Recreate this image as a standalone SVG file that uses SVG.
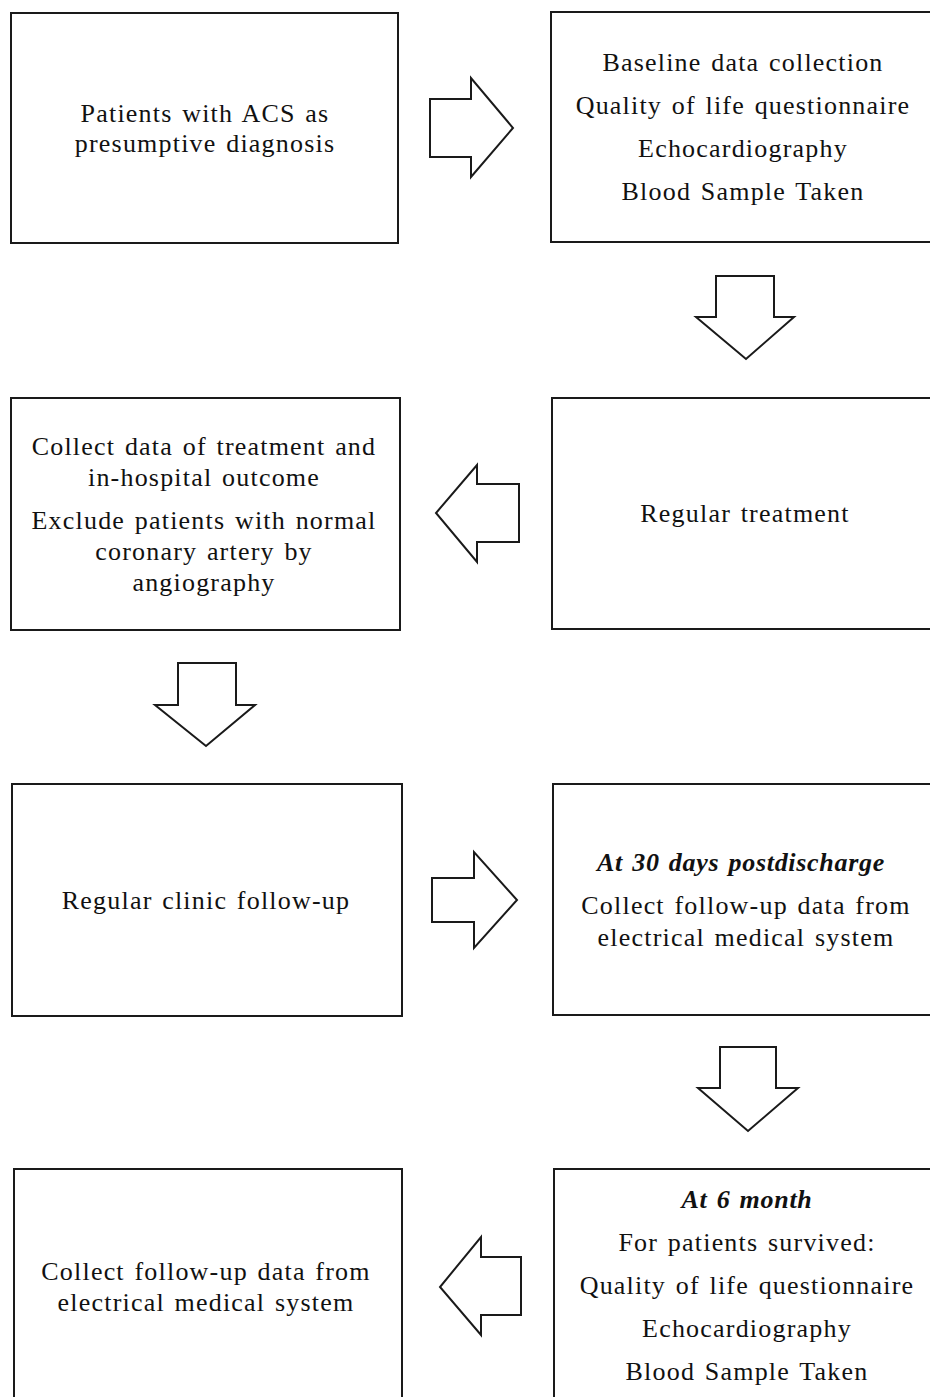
<svg xmlns="http://www.w3.org/2000/svg" width="930" height="1397" viewBox="0 0 930 1397">
<style>
.box{fill:#fff;stroke:#1a1a1a;stroke-width:2}
.arr{fill:#fff;stroke:#1a1a1a;stroke-width:2;stroke-linejoin:miter}
text{font-family:"Liberation Serif","Times New Roman",serif;font-size:26px;fill:#111;text-anchor:middle;letter-spacing:1.2px;word-spacing:2px}
.bi{font-weight:bold;font-style:italic;letter-spacing:0.7px}
</style>
<rect width="930" height="1397" fill="#fff"/>
<g id="n1"><rect class="box" x="11" y="13" width="387" height="230"/>
<text x="205" y="122">Patients with ACS as</text><text x="205" y="152">presumptive diagnosis</text></g>
<g id="n2"><rect class="box" x="551" y="12" width="385" height="230"/>
<text x="743" y="71">Baseline data collection</text><text x="743" y="114">Quality of life questionnaire</text><text x="743" y="157">Echocardiography</text><text x="743" y="200">Blood Sample Taken</text></g>
<g id="n3"><rect class="box" x="11" y="398" width="389" height="232"/>
<text x="204" y="455">Collect data of treatment and</text><text x="204" y="486">in-hospital outcome</text><text x="204" y="529">Exclude patients with normal</text><text x="204" y="560">coronary artery by</text><text x="204" y="591">angiography</text></g>
<g id="n4"><rect class="box" x="552" y="398" width="384" height="231"/>
<text x="745" y="522">Regular treatment</text></g>
<g id="n5"><rect class="box" x="12" y="784" width="390" height="232"/>
<text x="206" y="909">Regular clinic follow-up</text></g>
<g id="n6"><rect class="box" x="553" y="784" width="383" height="231"/>
<text class="bi" x="741" y="871">At 30 days postdischarge</text><text x="746" y="914">Collect follow-up data from</text><text x="746" y="946">electrical medical system</text></g>
<g id="n7"><rect class="box" x="14" y="1169" width="388" height="240"/>
<text x="206" y="1280">Collect follow-up data from</text><text x="206" y="1311">electrical medical system</text></g>
<g id="n8"><rect class="box" x="554" y="1169" width="382" height="240"/>
<text class="bi" x="747" y="1208">At 6 month</text><text x="747" y="1251">For patients survived:</text><text x="747" y="1294">Quality of life questionnaire</text><text x="747" y="1337">Echocardiography</text><text x="747" y="1380">Blood Sample Taken</text></g>
<g id="connectors">
<polygon class="arr" points="430,99 471,99 471,78 513,128 471,177 471,157 430,157"/>
<polygon class="arr" points="716,276 774,276 774,317 794,317 746,359 696,317 716,317"/>
<polygon class="arr" points="519,484 477,484 477,465 436,513 477,562 477,542 519,542"/>
<polygon class="arr" points="178,663 236,663 236,705 255,705 206,746 155,705 178,705"/>
<polygon class="arr" points="432,878 474,878 474,852 517,900 474,948 474,922 432,922"/>
<polygon class="arr" points="720,1047 776,1047 776,1088 798,1088 748,1131 698,1088 720,1088"/>
<polygon class="arr" points="521,1257 481,1257 481,1237 440,1287 481,1335 481,1315 521,1315"/>
</g>
</svg>
